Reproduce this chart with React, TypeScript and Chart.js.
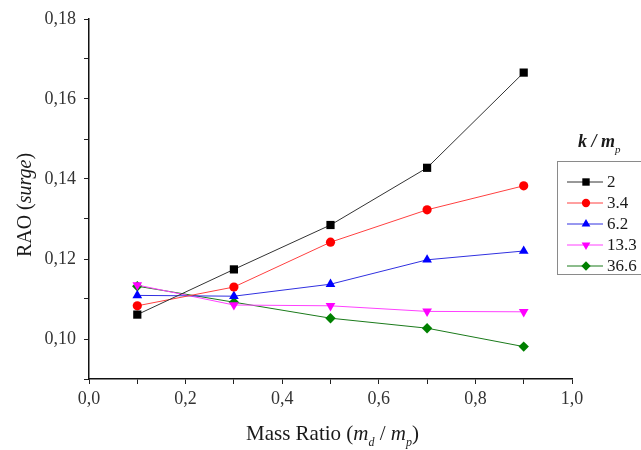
import React, { useEffect, useRef } from 'react';
import { Chart, registerables } from 'chart.js';

Chart.register(...registerables);

// ---- data ----
const massRatio = [0.1, 0.3, 0.5, 0.7, 0.9];
const seriesLabels = ['2', '3.4', '6.2', '13.3', '36.6'];
const raoK2 = [0.1061, 0.1174, 0.1285, 0.1428, 0.1666];
const raoK34 = [0.1083, 0.113, 0.1242, 0.1323, 0.1383];
const raoK62 = [0.1109, 0.1107, 0.1137, 0.1198, 0.122];
const raoK133 = [0.1135, 0.1085, 0.1083, 0.1069, 0.1068];
const raoK366 = [0.1132, 0.1092, 0.1052, 0.1027, 0.0981];
const seriesValues = [raoK2, raoK34, raoK62, raoK133, raoK366];

// ---- styles ----
const seriesStyles = [
  { color: '#000000', line: '#333333', pointStyle: 'rect', radius: 5.8, rotation: 0 },
  { color: '#ff0000', line: '#ff4040', pointStyle: 'circle', radius: 4.6, rotation: 0 },
  { color: '#0000ff', line: '#3030e0', pointStyle: 'triangle', radius: 5.6, rotation: 0 },
  { color: '#ff00ff', line: '#ff40ff', pointStyle: 'triangle', radius: 5.6, rotation: 180 },
  { color: '#008000', line: '#1a7a1a', pointStyle: 'rectRot', radius: 5.2, rotation: 0 },
];

const SERIF = '"Liberation Serif", "Times New Roman", serif';

type Seg = { text: string; font: string; dy?: number };

function drawRich(ctx: CanvasRenderingContext2D, segs: Seg[], x: number, y: number, align: 'center' | 'left') {
  let total = 0;
  const widths = segs.map((s) => {
    ctx.font = s.font;
    const w = ctx.measureText(s.text).width;
    total += w;
    return w;
  });
  let cx = align === 'center' ? x - total / 2 : x;
  ctx.textAlign = 'left';
  ctx.textBaseline = 'alphabetic';
  segs.forEach((s, i) => {
    ctx.font = s.font;
    ctx.fillText(s.text, cx, y + (s.dy || 0));
    cx += widths[i];
  });
}

function drawMarker(ctx: CanvasRenderingContext2D, style: string, x: number, y: number, r: number, rotation: number) {
  ctx.beginPath();
  if (style === 'rect') {
    const s = r * Math.SQRT1_2;
    ctx.rect(x - s, y - s, 2 * s, 2 * s);
  } else if (style === 'circle') {
    ctx.arc(x, y, r, 0, Math.PI * 2);
  } else if (style === 'triangle') {
    const rad0 = (rotation * Math.PI) / 180;
    for (let i = 0; i < 3; i++) {
      const a = rad0 - Math.PI / 2 + (i * 2 * Math.PI) / 3;
      const px = x + Math.cos(a) * r;
      const py = y + Math.sin(a) * r;
      if (i === 0) ctx.moveTo(px, py);
      else ctx.lineTo(px, py);
    }
    ctx.closePath();
  } else if (style === 'rectRot') {
    ctx.moveTo(x, y - r);
    ctx.lineTo(x + r, y);
    ctx.lineTo(x, y + r);
    ctx.lineTo(x - r, y);
    ctx.closePath();
  }
  ctx.fill();
}

const decorPlugin = {
  id: 'decor',
  afterDraw(chart: any) {
    const ctx: CanvasRenderingContext2D = chart.ctx;
    const area = chart.chartArea;
    ctx.save();
    ctx.fillStyle = '#1a1a1a';

    // x axis title
    drawRich(
      ctx,
      [
        { text: 'Mass Ratio (', font: `21px ${SERIF}` },
        { text: 'm', font: `italic 21px ${SERIF}` },
        { text: 'd', font: `italic 12px ${SERIF}`, dy: 6 },
        { text: ' / ', font: `21px ${SERIF}` },
        { text: 'm', font: `italic 21px ${SERIF}` },
        { text: 'p', font: `italic 12px ${SERIF}`, dy: 6 },
        { text: ')', font: `21px ${SERIF}` },
      ],
      (area.left + area.right) / 2 + 2,
      440,
      'center'
    );

    // y axis title
    ctx.save();
    ctx.translate(31, 205);
    ctx.rotate(-Math.PI / 2);
    drawRich(
      ctx,
      [
        { text: 'RAO (', font: `20px ${SERIF}` },
        { text: 'surge', font: `italic 20px ${SERIF}` },
        { text: ')', font: `20px ${SERIF}` },
      ],
      0,
      0,
      'center'
    );
    ctx.restore();

    // legend title
    drawRich(
      ctx,
      [
        { text: 'k / m', font: `italic bold 18px ${SERIF}` },
        { text: 'p', font: `italic 11px ${SERIF}`, dy: 6 },
      ],
      578,
      147,
      'left'
    );

    // legend box
    ctx.strokeStyle = '#8a8a8a';
    ctx.lineWidth = 1;
    ctx.strokeRect(557.5, 161.5, 100, 113);

    chart.data.datasets.forEach((ds: any, i: number) => {
      const st = seriesStyles[i];
      const y = 182 + i * 21;
      ctx.strokeStyle = st.line;
      ctx.lineWidth = 1;
      ctx.beginPath();
      ctx.moveTo(567, y);
      ctx.lineTo(603, y);
      ctx.stroke();
      ctx.fillStyle = st.color;
      drawMarker(ctx, st.pointStyle, 586, y, st.radius * 0.9, st.rotation);
      ctx.fillStyle = '#1a1a1a';
      ctx.font = `17px ${SERIF}`;
      ctx.textAlign = 'left';
      ctx.textBaseline = 'middle';
      ctx.fillText(ds.label, 607, y + 1);
    });
    ctx.restore();
  },
};

export default function App() {
  const ref = useRef<HTMLCanvasElement | null>(null);

  useEffect(() => {
    if (!ref.current) return;
    const datasets = seriesLabels.map((label, i) => {
      const st = seriesStyles[i];
      return {
        label,
        data: massRatio.map((x, j) => ({ x, y: seriesValues[i][j] })),
        borderColor: st.line,
        backgroundColor: st.color,
        pointBackgroundColor: st.color,
        pointBorderColor: st.color,
        pointBorderWidth: 0,
        borderWidth: 1,
        pointStyle: st.pointStyle,
        pointRadius: st.radius,
        pointRotation: st.rotation,
        showLine: true,
        tension: 0,
      };
    });

    const chart = new Chart(ref.current, {
      type: 'scatter',
      data: { datasets: datasets as any },
      options: {
        animation: false,
        responsive: true,
        maintainAspectRatio: false,
        layout: { padding: { left: 0, right: 69, top: 19, bottom: 0 } },
        plugins: {
          legend: { display: false },
          tooltip: { enabled: false },
        },
        scales: {
          x: {
            type: 'linear',
            min: 0,
            max: 1,
            afterFit: (s: any) => {
              s.height = 71;
            },
            border: { display: true, color: '#111', width: 1.5 },
            grid: { drawOnChartArea: false, drawTicks: true, tickLength: 5, tickColor: '#222', tickWidth: 1 },
            ticks: {
              stepSize: 0.1,
              autoSkip: false,
              maxRotation: 0,
              padding: 4,
              color: '#333',
              font: { family: SERIF, size: 18 },
              callback: (v: any) => {
                const n = Math.round(Number(v) * 10);
                return n % 2 === 0 ? (n / 10).toFixed(1).replace('.', ',') : '';
              },
            },
          },
          y: {
            type: 'linear',
            min: 0.09,
            max: 0.18,
            afterFit: (s: any) => {
              s.width = 89;
            },
            border: { display: true, color: '#111', width: 1.5 },
            grid: { drawOnChartArea: false, drawTicks: true, tickLength: 5, tickColor: '#222', tickWidth: 1 },
            ticks: {
              stepSize: 0.01,
              autoSkip: false,
              padding: 8,
              color: '#333',
              font: { family: SERIF, size: 18 },
              callback: (v: any) => {
                const n = Math.round(Number(v) * 100);
                return n % 2 === 0 && n >= 10 ? (n / 100).toFixed(2).replace('.', ',') : '';
              },
            },
          },
        },
      },
      plugins: [decorPlugin],
    });
    return () => chart.destroy();
  }, []);

  return (
    <div style={{ position: 'absolute', left: 0, top: 0, width: 641, height: 450, background: '#fff' }}>
      <canvas ref={ref} />
    </div>
  );
}
